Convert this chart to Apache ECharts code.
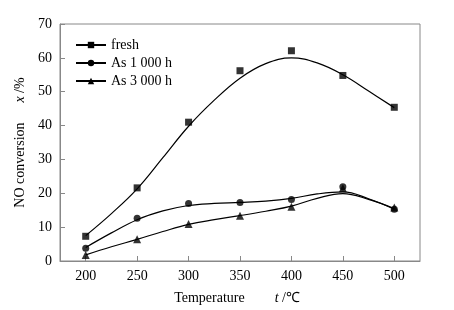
<!DOCTYPE html>
<html>
<head>
<meta charset="utf-8">
<script src="https://cdn.jsdelivr.net/npm/echarts@6/dist/echarts.min.js"></script>
<style>
  html, body { margin: 0; padding: 0; background: #fff; }
  #chart { width: 454px; height: 310px; }
</style>
</head>
<body>
<div id="chart"></div>
<script>
// measured points
var temps = [200, 250, 300, 350, 400, 450, 500];
var freshPts = [7.3, 21.6, 41.0, 56.2, 62.1, 54.8, 45.4];
var h1000Pts = [3.8, 12.6, 17.0, 17.3, 18.2, 21.9, 15.3];
var h3000Pts = [1.8, 6.4, 10.9, 13.4, 16.0, 21.5, 15.8];

// fitted curves, every 25 degrees
var curveT = [200, 225, 250, 275, 300, 325, 350, 375, 400, 425, 450, 475, 500];
var freshFit = [7.5, 14.0, 21.3, 30.5, 39.8, 47.5, 54.0, 58.3, 60.0, 58.5, 55.0, 50.2, 45.3];
var h1000Fit = [4.0, 8.3, 12.2, 14.8, 16.4, 17.0, 17.3, 17.7, 18.5, 19.8, 20.4, 18.4, 15.3];
var h3000Fit = [1.8, 4.2, 6.4, 8.7, 10.8, 12.2, 13.4, 14.7, 16.2, 18.5, 19.9, 18.2, 15.5];

var xTicks = [200, 250, 300, 350, 400, 450, 500];

function pairs(xs, ys) {
    return xs.map(function (x, i) { return [x, ys[i]]; });
}

var font = 'Liberation Serif';
var names = ['fresh', 'As 1 000 h', 'As 3 000 h'];
var symbols = ['rect', 'circle', 'triangle'];
var symSizes = [7, 7, 8];
var fits = [freshFit, h1000Fit, h3000Fit];
var pts = [freshPts, h1000Pts, h3000Pts];

var series = [];
for (var i = 0; i < 3; i++) {
    series.push({
        name: names[i],
        type: 'line',
        smooth: 0.4,
        symbol: symbols[i],
        symbolSize: symSizes[i],
        showSymbol: false,
        lineStyle: {color: '#000', width: 1.2},
        itemStyle: {color: '#000'},
        data: pairs(curveT, fits[i]),
        z: 2
    });
    series.push({
        name: names[i] + ' pts',
        type: 'scatter',
        symbol: symbols[i],
        symbolSize: symSizes[i],
        itemStyle: {color: '#000'},
        data: pairs(temps, pts[i]),
        z: 3
    });
}

var option = {
    backgroundColor: '#fff',
    animation: false,
    grid: {
        left: 60, right: 34, top: 24, bottom: 49,
        show: true, borderColor: '#888', borderWidth: 1
    },
    legend: {
        data: names,
        orient: 'vertical',
        left: 70,
        top: 33,
        itemWidth: 30,
        itemHeight: 8,
        itemGap: 4,
        textStyle: {fontFamily: font, fontSize: 14, color: '#000'}
    },
    xAxis: {
        type: 'value',
        min: 175,
        max: 525,
        name: '{n|Temperature}         {i|t} {n|/℃}',
        nameLocation: 'middle',
        nameGap: 30,
        nameTextStyle: {
            padding: [0, 6, 0, 0],
            rich: {
                n: {fontFamily: font, fontSize: 14, color: '#000'},
                i: {fontFamily: font, fontSize: 14, fontStyle: 'italic', color: '#000'}
            }
        },
        axisLine: {lineStyle: {color: '#888'}},
        axisTick: {inside: true, length: 5, customValues: xTicks, lineStyle: {color: '#888'}},
        axisLabel: {customValues: xTicks, fontFamily: font, fontSize: 14, color: '#000', margin: 8},
        splitLine: {show: false}
    },
    yAxis: {
        type: 'value',
        min: 0,
        max: 70,
        interval: 10,
        name: '{n|NO conversion}      {i|x} {n|/%}',
        nameLocation: 'middle',
        nameGap: 33,
        nameTextStyle: {
            rich: {
                n: {fontFamily: font, fontSize: 14, color: '#000'},
                i: {fontFamily: font, fontSize: 14, fontStyle: 'italic', color: '#000'}
            }
        },
        axisLine: {show: true, lineStyle: {color: '#888'}},
        axisTick: {show: true, inside: true, length: 5, lineStyle: {color: '#888'}},
        axisLabel: {fontFamily: font, fontSize: 14, color: '#000', margin: 8},
        splitLine: {show: false}
    },
    series: series
};

var myChart = echarts.init(document.getElementById('chart'));
myChart.setOption(option);
</script>
</body>
</html>
